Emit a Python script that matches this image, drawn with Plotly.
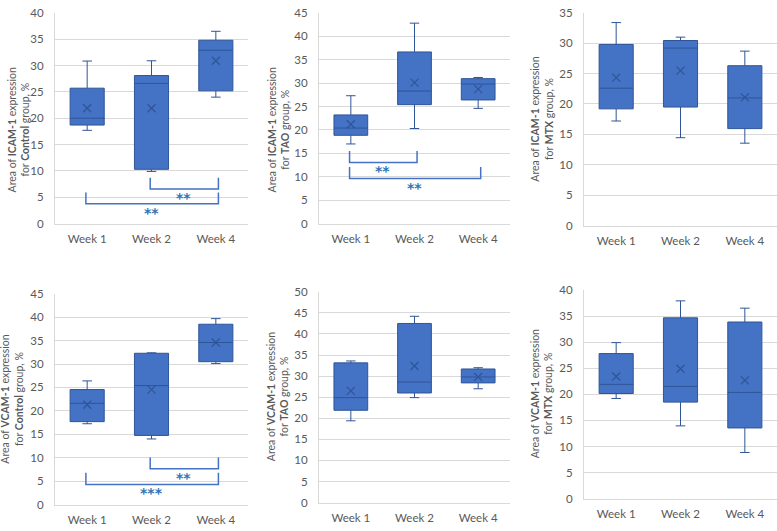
import plotly.graph_objects as go

weeks = ["Week 1", "Week 2", "Week 4"]

# ICAM-1, Control
icam_ctrl_low = [17.7, 9.9, 24.0]
icam_ctrl_q1 = [18.7, 10.3, 25.2]
icam_ctrl_med = [20.0, 26.6, 32.9]
icam_ctrl_q3 = [25.7, 28.1, 34.8]
icam_ctrl_high = [30.85, 30.9, 36.5]
icam_ctrl_mean = [21.9, 21.9, 30.9]

# ICAM-1, TAO
icam_tao_low = [17.0, 20.3, 24.6]
icam_tao_q1 = [18.85, 25.4, 26.4]
icam_tao_med = [20.4, 28.3, 29.8]
icam_tao_q3 = [23.2, 36.65, 30.95]
icam_tao_high = [27.3, 42.8, 31.2]
icam_tao_mean = [21.2, 30.1, 28.7]

# ICAM-1, MTX
icam_mtx_low = [17.2, 14.45, 13.55]
icam_mtx_q1 = [19.2, 19.5, 15.95]
icam_mtx_med = [22.6, 29.2, 21.0]
icam_mtx_q3 = [29.8, 30.45, 26.3]
icam_mtx_high = [33.4, 31.0, 28.7]
icam_mtx_mean = [24.35, 25.5, 21.1]

# VCAM-1, Control
vcam_ctrl_low = [17.25, 14.0, 30.1]
vcam_ctrl_q1 = [17.7, 14.75, 30.5]
vcam_ctrl_med = [21.6, 25.4, 34.6]
vcam_ctrl_q3 = [24.55, 32.3, 38.5]
vcam_ctrl_high = [26.4, 32.4, 39.7]
vcam_ctrl_mean = [21.3, 24.55, 34.6]

# VCAM-1, TAO
vcam_tao_low = [19.4, 24.9, 27.0]
vcam_tao_q1 = [21.9, 26.0, 28.4]
vcam_tao_med = [24.9, 28.6, 29.8]
vcam_tao_q3 = [33.15, 42.5, 31.7]
vcam_tao_high = [33.6, 44.2, 32.0]
vcam_tao_mean = [26.5, 32.4, 29.8]

# VCAM-1, MTX
vcam_mtx_low = [19.2, 13.95, 8.85]
vcam_mtx_q1 = [20.15, 18.5, 13.55]
vcam_mtx_med = [21.9, 21.5, 20.35]
vcam_mtx_q3 = [27.8, 34.65, 33.85]
vcam_mtx_high = [29.9, 37.9, 36.5]
vcam_mtx_mean = [23.4, 24.9, 22.65]

y_titles = [
    "Area of <b>ICAM-1</b> expression<br>for <b>Control</b> group, %",
    "Area of <b>ICAM-1</b> expression<br>for <b>TAO</b> group, %",
    "Area of <b>ICAM-1</b> expression<br>for <b>MTX</b> group, %",
    "Area of <b>VCAM-1</b> expression<br>for <b>Control</b> group, %",
    "Area of <b>VCAM-1</b> expression<br>for <b>TAO</b> group, %",
    "Area of <b>VCAM-1</b> expression<br>for <b>MTX</b> group, %",
]
y_max = [40, 45, 35, 45, 50, 40]

# significance comparisons: (panel, from-week index, to-week index, label)
sig_panel = [0, 0, 1, 1, 3, 3]
sig_from = [1, 0, 0, 0, 1, 0]
sig_to = [2, 2, 1, 2, 2, 2]
sig_label = ["**", "**", "**", "**", "**", "***"]
sig_top = [8.7, 5.9, 15.5, 12.1, 10.05, 6.8]
sig_bottom = [6.55, 3.75, 13.05, 9.6, 7.65, 4.3]

panels = [
    (icam_ctrl_low, icam_ctrl_q1, icam_ctrl_med, icam_ctrl_q3, icam_ctrl_high, icam_ctrl_mean),
    (icam_tao_low, icam_tao_q1, icam_tao_med, icam_tao_q3, icam_tao_high, icam_tao_mean),
    (icam_mtx_low, icam_mtx_q1, icam_mtx_med, icam_mtx_q3, icam_mtx_high, icam_mtx_mean),
    (vcam_ctrl_low, vcam_ctrl_q1, vcam_ctrl_med, vcam_ctrl_q3, vcam_ctrl_high, vcam_ctrl_mean),
    (vcam_tao_low, vcam_tao_q1, vcam_tao_med, vcam_tao_q3, vcam_tao_high, vcam_tao_mean),
    (vcam_mtx_low, vcam_mtx_q1, vcam_mtx_med, vcam_mtx_q3, vcam_mtx_high, vcam_mtx_mean),
]

W, H = 777, 531
# pixel boxes (left, right, top, bottom)
px_boxes = [
    (55, 248, 6, 222),
    (319, 510, 6, 222),
    (584, 777, 6, 224),
    (55, 248, 294, 510),
    (319, 510, 292, 508),
    (584, 777, 290, 504),
]
title_pos = [(18.5, 126), (278.5, 126), (542.5, 115), (12.5, 402), (278, 400), (542, 397)]

FONT = "Lato"
GRID = "#D9D9D9"
TXT = "#595959"
FILL = "#4472C4"
EDGE = "#2F5597"
STAR = "#2E75B6"

fig = go.Figure()
layout = dict(
    width=W, height=H, margin=dict(l=0, r=0, t=0, b=0),
    paper_bgcolor="white", plot_bgcolor="white", showlegend=False,
    font=dict(family=FONT, color=TXT, size=12),
)
annotations = []
shapes = []
xpos = list(range(len(weeks)))

for i, (low, q1, med, q3, high, mean) in enumerate(panels):
    n = "" if i == 0 else str(i + 1)
    xa, ya = "x" + n, "y" + n
    l, r, t, b = px_boxes[i]
    fig.add_trace(go.Box(
        x=xpos, lowerfence=low, q1=q1, median=med, q3=q3, upperfence=high,
        xaxis=xa, yaxis=ya, width=0.53, whiskerwidth=0.28,
        fillcolor=FILL, line=dict(color=EDGE, width=1),
        boxpoints=False, hoverinfo="skip",
    ))
    fig.add_trace(go.Scatter(
        x=xpos, y=mean, xaxis=xa, yaxis=ya, mode="markers",
        marker=dict(symbol="x-thin", size=8, line=dict(color=EDGE, width=1.2)),
        hoverinfo="skip",
    ))
    layout["xaxis" + n] = dict(
        domain=[l / W, r / W], anchor=ya, range=[-0.5, 2.5],
        tickvals=xpos, ticktext=weeks, showgrid=False, zeroline=False,
        showline=True, linecolor=GRID, linewidth=1, ticks="",
        ticklabelstandoff=5, tickfont=dict(size=11.5, color=TXT),
    )
    layout["yaxis" + n] = dict(
        domain=[1 - b / H, 1 - t / H], anchor=xa, range=[0, y_max[i]],
        dtick=5, showgrid=True, gridcolor=GRID, gridwidth=1, zeroline=False,
        showline=True, linecolor=GRID, linewidth=1, ticks="",
        ticklabelstandoff=8, tickfont=dict(size=11.5, color=TXT),
    )
    tx, ty = title_pos[i]
    annotations.append(dict(
        text=y_titles[i], x=tx / W, y=1 - ty / H, xref="paper", yref="paper",
        textangle=-90, showarrow=False, font=dict(size=10.5, color=TXT, family=FONT),
        xanchor="center", yanchor="middle",
    ))

for p, a, bidx, lab, top, bot in zip(sig_panel, sig_from, sig_to, sig_label, sig_top, sig_bottom):
    n = "" if p == 0 else str(p + 1)
    x0 = a - 0.02
    x1 = bidx + 0.04
    shapes.append(dict(
        type="path", xref="x" + n, yref="y" + n,
        path=f"M {x0},{top} L {x0},{bot} L {x1},{bot} L {x1},{top}",
        line=dict(color=FILL, width=1.5),
    ))
    annotations.append(dict(
        text="<b>" + lab + "</b>", x=(a + bidx) / 2, y=bot, xref="x" + n, yref="y" + n,
        showarrow=False, yanchor="middle", yshift=-9,
        font=dict(size=14, color=STAR, family="DejaVu Sans"),
    ))

layout["annotations"] = annotations
layout["shapes"] = shapes
fig.update_layout(**layout)
fig.write_html("out.html")
